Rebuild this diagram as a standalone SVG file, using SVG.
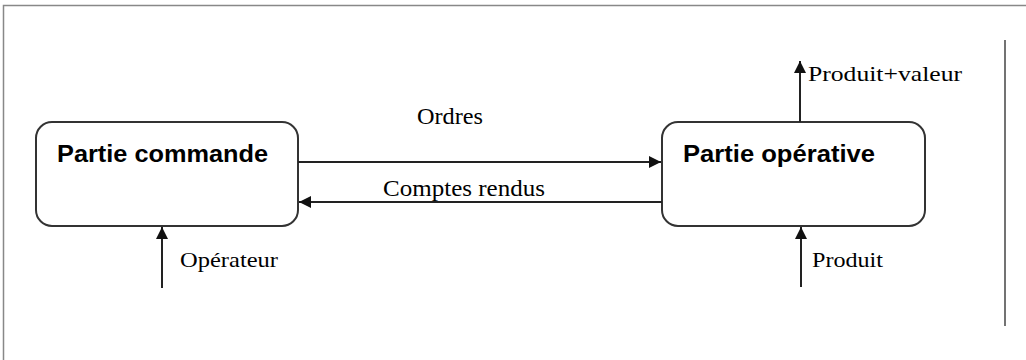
<svg xmlns="http://www.w3.org/2000/svg" width="1026" height="360" viewBox="0 0 1026 360">
<style>
.box{fill:#fff;stroke:#333;stroke-width:2}
.ttl{font-family:"Liberation Sans",Arial,sans-serif;font-weight:bold;font-size:23.5px;fill:#000}
.lbl{font-family:"Liberation Serif","Times New Roman",serif;font-size:22px;fill:#000}
.lbl2{font-size:23px}
.con{stroke:#222;stroke-width:2;fill:none;marker-end:url(#ah)}
</style>
<defs>
<marker id="ah" viewBox="0 0 10 10" refX="10" refY="5" markerWidth="6" markerHeight="6" orient="auto" markerUnits="strokeWidth">
<path d="M0,0 L10,5 L0,10 z" fill="#111"/>
</marker>
</defs>
<rect width="1026" height="360" fill="#fff"/>
<path d="M3.5,360 V5.5 H1026" fill="none" stroke="#888" stroke-width="1.5"/>
<line x1="1005" y1="40" x2="1005" y2="326" stroke="#444" stroke-width="1.5"/>
<g id="partie-commande">
<rect class="box" x="36" y="122" width="262" height="104" rx="16"/>
<text class="ttl" x="57" y="162" textLength="211" lengthAdjust="spacingAndGlyphs">Partie commande</text>
</g>
<g id="partie-operative">
<rect class="box" x="662" y="122" width="263" height="104" rx="16"/>
<text class="ttl" x="683" y="162" textLength="192" lengthAdjust="spacingAndGlyphs">Partie opérative</text>
</g>
<g id="connectors">
<line class="con" x1="298" y1="162" x2="661" y2="162"/>
<line class="con" x1="662" y1="202" x2="299" y2="202"/>
<line class="con" x1="800" y1="122" x2="800" y2="61"/>
<line class="con" x1="162" y1="288" x2="162" y2="227"/>
<line class="con" x1="801" y1="287" x2="801" y2="227"/>
<text class="lbl lbl2" x="417" y="124" textLength="66" lengthAdjust="spacingAndGlyphs">Ordres</text>
<text class="lbl lbl2" x="383" y="196" textLength="162" lengthAdjust="spacingAndGlyphs">Comptes rendus</text>
<text class="lbl" x="808" y="81" textLength="154" lengthAdjust="spacingAndGlyphs">Produit+valeur</text>
<text class="lbl" x="180" y="267" textLength="98" lengthAdjust="spacingAndGlyphs">Opérateur</text>
<text class="lbl" x="812" y="267" textLength="71" lengthAdjust="spacingAndGlyphs">Produit</text>
</g>
</svg>
